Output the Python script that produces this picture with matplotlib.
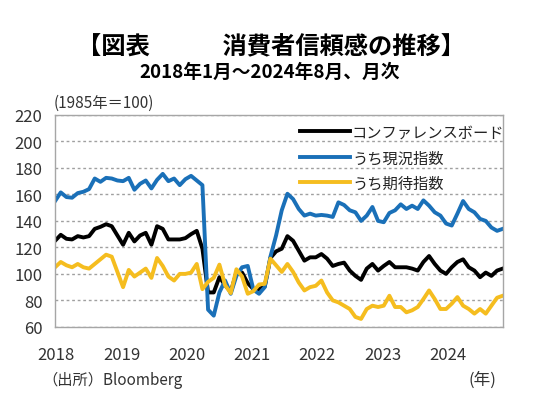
import numpy as np
import matplotlib
matplotlib.use("Agg")
import matplotlib.pyplot as plt

plt.rcParams['font.family'] = ['Noto Sans CJK JP', 'DejaVu Sans']

# Monthly values, Jan 2018 .. Aug 2024 (1985 = 100)
conference_board = [
    125, 129.5, 126.5, 126, 128.5, 127.5, 128.5, 134, 135.5, 137.5, 136, 129,
    122, 131, 124.5, 129, 131, 122, 136, 134, 126, 126, 126, 127,
    130, 132.5, 119, 86, 86, 97.5, 91.5, 86.5, 101, 101, 93, 88.5,
    88.5, 90.5, 112, 117, 119, 128.5, 125, 117.5, 110, 112.5, 112.5, 115,
    111.5, 106, 107.5, 108.5, 102.5, 98.5, 95.5, 104, 107.5, 102.5, 106, 109,
    105, 105, 105, 104, 102.5, 109, 113.5, 107.5, 102.5, 100, 105, 109,
    111, 105, 102.5, 97.5, 101, 98.5, 102.5, 104,
]
present_situation = [
    155, 161.5, 158, 157.5, 161, 162, 164, 172, 169.5, 172.5, 172, 170.5,
    170, 172.5, 163.5, 168, 170.5, 164.5, 171, 175.5, 170, 172, 167, 171.5,
    174, 170.5, 167, 73, 68.5, 86, 95, 85, 98.5, 105, 106, 88,
    85, 90, 113, 129, 148, 160.5, 156.5, 149, 144, 145.5, 144, 144.5,
    144, 143, 154, 152, 148, 146.5, 140, 144, 150.5, 140, 139, 146,
    148, 152.5, 149, 151.5, 149, 155.5, 151.5, 146.5, 144, 138, 136.5, 145.5,
    155, 149, 146.5, 141.5, 140, 135, 132.5, 134,
]
expectations = [
    105, 109, 106.5, 105, 107.5, 105, 104, 107.5, 111, 114.5, 113, 101.5,
    90, 103, 98, 101, 104, 97, 112, 106, 98, 95, 100, 100,
    101, 107.5, 88.5, 94, 97, 107, 91.5, 85.5, 103.5, 98, 85, 87,
    92, 92.5, 111.5, 106.5, 101.5, 107.5, 101.5, 93.5, 87.5, 90, 91, 95,
    86, 80, 78.5, 76, 73.5, 67.5, 66, 73.5, 76, 75, 76, 83.5,
    75, 75, 71, 72.5, 75, 81, 87.5, 81, 73.5, 73.5, 77.5, 82.5,
    76, 73.5, 70, 73.5, 70, 76, 82, 83.5,
]
series_labels = ['コンファレンスボード', 'うち現況指数', 'うち期待指数']
series_colors = ['#000000', '#1a70b8', '#f5bd1f']
year_labels = ['2018', '2019', '2020', '2021', '2022', '2023', '2024']

months = np.arange(len(conference_board))

fig = plt.figure(figsize=(5.4, 4.14), dpi=100)
ax = fig.add_axes([0.102, 0.208, 0.829, 0.512])

for vals, lab, col in zip([conference_board, present_situation, expectations],
                          series_labels, series_colors):
    ax.plot(months, vals, color=col, lw=2.8, label=lab, solid_joinstyle='round')

ax.set_xlim(0, len(months) - 1)
ax.set_ylim(60, 220)
ax.set_yticks(np.arange(60, 221, 20))
# year labels sit slightly tighter than the monthly grid in the original
ax.set_xticks([0.2 + 11.52 * k for k in range(len(year_labels))])
ax.set_xticklabels(year_labels)
ax.tick_params(axis='both', length=0, labelsize=12, colors='#333333')
ax.tick_params(axis='x', pad=14)
ax.tick_params(axis='y', pad=9)

ax.yaxis.grid(True, color='#a0a0a0', linestyle=(0, (2, 2)), lw=1)
ax.set_axisbelow(True)
for side in ['left', 'right', 'bottom', 'top']:
    ax.spines[side].set_color('#a6a6a6')
    ax.spines[side].set_linewidth(1)

leg = ax.legend(loc='upper left', bbox_to_anchor=(0.525, 1.005), frameon=False,
                fontsize=11, handlelength=3.3, handletextpad=0.1,
                labelspacing=0.55, borderaxespad=0.25)
for t in leg.get_texts():
    t.set_color('#222222')

fig.text(0.502, 0.885, '【図表　　　消費者信頼感の推移】', ha='center', va='center',
         fontsize=17.5, fontweight='bold')
fig.text(0.5, 0.826, '2018年1月～2024年8月、月次', ha='center', va='center',
         fontsize=13.5, fontweight='bold')
fig.text(0.1, 0.751, '(1985年＝100)', ha='left', va='center', fontsize=11,
         color='#333333')
fig.text(0.078, 0.082, '（出所）Bloomberg', ha='left', va='center', fontsize=11,
         color='#333333')
fig.text(0.893, 0.082, '(年)', ha='center', va='center', fontsize=12,
         color='#333333')

fig.savefig('out.png', dpi=100)
